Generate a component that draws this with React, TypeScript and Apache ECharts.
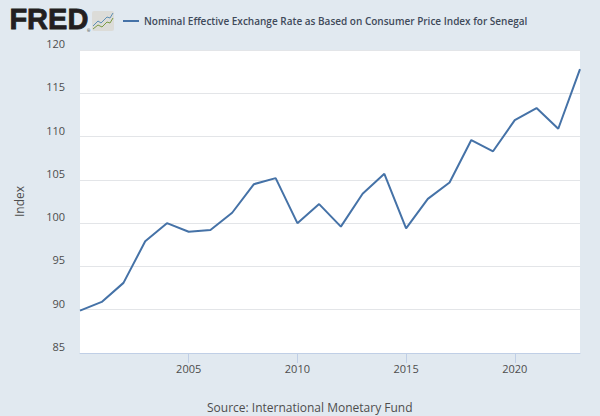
import React, { useEffect, useRef } from "react";
import * as echarts from "echarts";

const years = [2000,2001,2002,2003,2004,2005,2006,2007,2008,2009,2010,2011,2012,2013,2014,2015,2016,2017,2018,2019,2020,2021,2022,2023];
const values = [89.9,90.9,93.1,97.9,100,99,99.2,101.2,104.5,105.2,100,102.2,99.6,103.4,105.7,99.4,102.8,104.7,109.6,108.3,111.9,113.3,110.9,117.8];
const xTicks = [2005,2010,2015,2020];
const yTicks = [85,90,95,100,105,110,115,120];
const seriesName = "Nominal Effective Exchange Rate as Based on Consumer Price Index for Senegal";
const yName = "Index";
const source = "Source: International Monetary Fund";
const font = "'Open Sans'";

export default function App() {
  const ref = useRef<HTMLDivElement>(null);
  useEffect(() => {
    const chart = echarts.init(ref.current!, undefined, { renderer: "svg" });
    chart.setOption({
      animation: false,
      backgroundColor: "#e1e9f0",
      textStyle: { fontFamily: font },
      grid: { show: true, backgroundColor: "#ffffff", borderWidth: 0, left: 80, right: 20, top: 50, bottom: 63 },
      legend: {
        left: 118, top: 11, itemWidth: 16, itemHeight: 2, icon: "rect", itemGap: 0,
        textStyle: { fontFamily: font, fontSize: 10, fontWeight: 600, color: "#3f4a5a" },
      },
      xAxis: {
        type: "value", min: 2000, max: 2023, splitLine: { show: false },
        axisLine: { show: true, lineStyle: { color: "#c0cfe6", width: 1 } },
        axisTick: { show: true, length: 10, lineStyle: { color: "#c0cfe6" }, customValues: xTicks },
        axisLabel: { customValues: xTicks, color: "#4d4d4d", fontSize: 11, margin: 10, fontFamily: font, formatter: (v: number) => String(v) },
      },
      yAxis: {
        type: "value", min: 85, max: 120, interval: 5,
        name: yName, nameLocation: "middle", nameGap: 55,
        nameTextStyle: { color: "#4d4d4d", fontSize: 12, fontFamily: font },
        axisLine: { show: false }, axisTick: { show: false },
        splitLine: { lineStyle: { color: "#e3e5e8", width: 1 } },
        axisLabel: { customValues: yTicks, color: "#4d4d4d", fontSize: 11, margin: 15, verticalAlign: "bottom", fontFamily: font, lineHeight: 13 },
      },
      series: [{
        name: seriesName, type: "line", data: years.map((y, i) => [y, values[i]]),
        showSymbol: false, lineStyle: { color: "#4572a7", width: 2 }, itemStyle: { color: "#4572a7" },
      }],
      graphic: [
        { type: "text", left: 9, top: 4, style: { text: "FRED", fontFamily: "'Liberation Sans'", fontWeight: "bold", fontSize: 29, fill: "#231f20", stroke: "#231f20", lineWidth: 0.8 } },
        { type: "text", left: 87, top: 28, style: { text: "®", fontFamily: font, fontSize: 4, fill: "#231f20" } },
        { type: "rect", shape: { x: 92, y: 11, width: 22, height: 20, r: 2 }, style: { fill: "#dcdcd8" } },
        { type: "polyline", shape: { points: [[93,26],[98,21],[101,23],[107,17],[110,18],[113,13]] }, style: { stroke: "#5d8fb5", fill: "none", lineWidth: 1 } },
        { type: "polyline", shape: { points: [[93,29],[98,25],[102,27],[107,22],[110,23],[113,18]] }, style: { stroke: "#7a9a45", fill: "none", lineWidth: 1 } },
        { type: "text", left: 207, top: 401, style: { text: source, fontFamily: font, fontSize: 12, fill: "#4d4d4d" } },
      ],
    });
    return () => chart.dispose();
  }, []);
  return <div ref={ref} style={{ position: "fixed", left: 0, top: 0, width: 600, height: 416 }} />;
}
